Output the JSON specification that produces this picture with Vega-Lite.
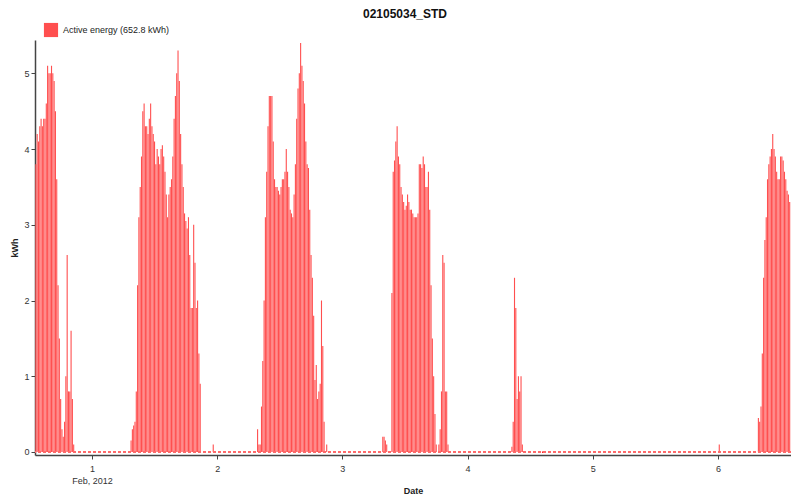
{
  "$schema": "https://vega.github.io/schema/vega-lite/v6.json",
  "width": 756,
  "height": 415,
  "autosize": {"type": "none"},
  "padding": {"left": 35, "top": 40, "right": 0, "bottom": 44},
  "background": "white",
  "config": {"view": {"stroke": null}, "font": "Liberation Sans"},
  "title": {"text": "02105034_STD", "fontSize": 12, "fontWeight": "bold", "font": "Liberation Sans", "color": "#111", "anchor": "middle", "dx": -8, "offset": 1},
  "data": {"values": [
    {"t": "2012-01-31T13:15", "kwh": 3.8}, {"t": "2012-01-31T13:30", "kwh": 4.2}, {"t": "2012-01-31T13:45", "kwh": 4.1}, {"t": "2012-01-31T14:00", "kwh": 4.3},
    {"t": "2012-01-31T14:15", "kwh": 4.4}, {"t": "2012-01-31T14:30", "kwh": 4.3}, {"t": "2012-01-31T14:45", "kwh": 4.4}, {"t": "2012-01-31T15:00", "kwh": 4.4},
    {"t": "2012-01-31T15:15", "kwh": 4.6}, {"t": "2012-01-31T15:30", "kwh": 5.1}, {"t": "2012-01-31T15:45", "kwh": 5.0}, {"t": "2012-01-31T16:00", "kwh": 5.0},
    {"t": "2012-01-31T16:15", "kwh": 5.1}, {"t": "2012-01-31T16:30", "kwh": 5.0}, {"t": "2012-01-31T16:45", "kwh": 4.9}, {"t": "2012-01-31T17:00", "kwh": 4.5},
    {"t": "2012-01-31T17:15", "kwh": 3.6}, {"t": "2012-01-31T17:30", "kwh": 2.2}, {"t": "2012-01-31T17:45", "kwh": 1.5}, {"t": "2012-01-31T18:00", "kwh": 0.7},
    {"t": "2012-01-31T18:15", "kwh": 0.3}, {"t": "2012-01-31T18:30", "kwh": 0.2}, {"t": "2012-01-31T18:45", "kwh": 0.4}, {"t": "2012-01-31T19:00", "kwh": 1.0},
    {"t": "2012-01-31T19:15", "kwh": 2.6}, {"t": "2012-01-31T19:30", "kwh": 0.8}, {"t": "2012-01-31T19:45", "kwh": 0.8}, {"t": "2012-01-31T20:00", "kwh": 1.6},
    {"t": "2012-01-31T20:15", "kwh": 0.7}, {"t": "2012-01-31T20:30", "kwh": 0.1},

    {"t": "2012-02-01T07:30", "kwh": 0.15}, {"t": "2012-02-01T07:45", "kwh": 0.3}, {"t": "2012-02-01T08:00", "kwh": 0.35}, {"t": "2012-02-01T08:15", "kwh": 0.4},
    {"t": "2012-02-01T08:30", "kwh": 0.8}, {"t": "2012-02-01T08:45", "kwh": 2.2}, {"t": "2012-02-01T09:00", "kwh": 3.1}, {"t": "2012-02-01T09:15", "kwh": 3.5},
    {"t": "2012-02-01T09:30", "kwh": 3.9}, {"t": "2012-02-01T09:45", "kwh": 4.5}, {"t": "2012-02-01T10:00", "kwh": 4.6}, {"t": "2012-02-01T10:15", "kwh": 4.3},
    {"t": "2012-02-01T10:30", "kwh": 4.3}, {"t": "2012-02-01T10:45", "kwh": 4.2}, {"t": "2012-02-01T11:00", "kwh": 4.4}, {"t": "2012-02-01T11:15", "kwh": 4.6},
    {"t": "2012-02-01T11:30", "kwh": 4.3}, {"t": "2012-02-01T11:45", "kwh": 4.2}, {"t": "2012-02-01T12:00", "kwh": 4.1}, {"t": "2012-02-01T12:15", "kwh": 3.8},
    {"t": "2012-02-01T12:30", "kwh": 4.0}, {"t": "2012-02-01T12:45", "kwh": 3.9}, {"t": "2012-02-01T13:00", "kwh": 3.8}, {"t": "2012-02-01T13:15", "kwh": 4.0},
    {"t": "2012-02-01T13:30", "kwh": 4.05}, {"t": "2012-02-01T13:45", "kwh": 3.9}, {"t": "2012-02-01T14:00", "kwh": 3.7}, {"t": "2012-02-01T14:15", "kwh": 3.4},
    {"t": "2012-02-01T14:30", "kwh": 3.1}, {"t": "2012-02-01T14:45", "kwh": 3.4}, {"t": "2012-02-01T15:00", "kwh": 3.5}, {"t": "2012-02-01T15:15", "kwh": 3.6},
    {"t": "2012-02-01T15:30", "kwh": 3.9}, {"t": "2012-02-01T15:45", "kwh": 4.4}, {"t": "2012-02-01T16:00", "kwh": 4.7}, {"t": "2012-02-01T16:15", "kwh": 5.0},
    {"t": "2012-02-01T16:30", "kwh": 5.3}, {"t": "2012-02-01T16:45", "kwh": 4.9}, {"t": "2012-02-01T17:00", "kwh": 4.2}, {"t": "2012-02-01T17:15", "kwh": 3.8},
    {"t": "2012-02-01T17:30", "kwh": 3.5}, {"t": "2012-02-01T17:45", "kwh": 3.15}, {"t": "2012-02-01T18:00", "kwh": 3.05}, {"t": "2012-02-01T18:15", "kwh": 2.95},
    {"t": "2012-02-01T18:30", "kwh": 3.1}, {"t": "2012-02-01T18:45", "kwh": 2.6}, {"t": "2012-02-01T19:00", "kwh": 1.9}, {"t": "2012-02-01T19:15", "kwh": 1.9},
    {"t": "2012-02-01T19:30", "kwh": 3.0}, {"t": "2012-02-01T19:45", "kwh": 2.5}, {"t": "2012-02-01T20:00", "kwh": 1.9}, {"t": "2012-02-01T20:15", "kwh": 2.0},
    {"t": "2012-02-01T20:30", "kwh": 1.3}, {"t": "2012-02-01T20:45", "kwh": 0.9}, {"t": "2012-02-01T23:15", "kwh": 0.1},

    {"t": "2012-02-02T07:45", "kwh": 0.3}, {"t": "2012-02-02T08:00", "kwh": 0.1}, {"t": "2012-02-02T08:15", "kwh": 0.1}, {"t": "2012-02-02T08:30", "kwh": 0.6},
    {"t": "2012-02-02T08:45", "kwh": 1.2}, {"t": "2012-02-02T09:00", "kwh": 2.0}, {"t": "2012-02-02T09:15", "kwh": 3.1}, {"t": "2012-02-02T09:30", "kwh": 3.7},
    {"t": "2012-02-02T09:45", "kwh": 4.3}, {"t": "2012-02-02T10:00", "kwh": 4.7}, {"t": "2012-02-02T10:15", "kwh": 4.7}, {"t": "2012-02-02T10:30", "kwh": 4.7},
    {"t": "2012-02-02T10:45", "kwh": 4.1}, {"t": "2012-02-02T11:00", "kwh": 3.6}, {"t": "2012-02-02T11:15", "kwh": 3.5}, {"t": "2012-02-02T11:30", "kwh": 3.5},
    {"t": "2012-02-02T11:45", "kwh": 3.45}, {"t": "2012-02-02T12:00", "kwh": 3.4}, {"t": "2012-02-02T12:15", "kwh": 3.5}, {"t": "2012-02-02T12:30", "kwh": 3.6},
    {"t": "2012-02-02T12:45", "kwh": 3.6}, {"t": "2012-02-02T13:00", "kwh": 3.7}, {"t": "2012-02-02T13:15", "kwh": 4.0}, {"t": "2012-02-02T13:30", "kwh": 3.7},
    {"t": "2012-02-02T13:45", "kwh": 3.5}, {"t": "2012-02-02T14:00", "kwh": 3.2}, {"t": "2012-02-02T14:15", "kwh": 3.15}, {"t": "2012-02-02T14:30", "kwh": 3.1},
    {"t": "2012-02-02T14:45", "kwh": 3.4}, {"t": "2012-02-02T15:00", "kwh": 3.8}, {"t": "2012-02-02T15:15", "kwh": 4.4}, {"t": "2012-02-02T15:30", "kwh": 4.8},
    {"t": "2012-02-02T15:45", "kwh": 5.0}, {"t": "2012-02-02T16:00", "kwh": 5.4}, {"t": "2012-02-02T16:15", "kwh": 5.1}, {"t": "2012-02-02T16:30", "kwh": 4.9},
    {"t": "2012-02-02T16:45", "kwh": 4.6}, {"t": "2012-02-02T17:00", "kwh": 4.1}, {"t": "2012-02-02T17:15", "kwh": 3.8}, {"t": "2012-02-02T17:30", "kwh": 3.75},
    {"t": "2012-02-02T17:45", "kwh": 3.2}, {"t": "2012-02-02T18:00", "kwh": 2.6}, {"t": "2012-02-02T18:15", "kwh": 2.3}, {"t": "2012-02-02T18:30", "kwh": 1.8},
    {"t": "2012-02-02T18:45", "kwh": 0.95}, {"t": "2012-02-02T19:00", "kwh": 1.15}, {"t": "2012-02-02T19:15", "kwh": 0.7}, {"t": "2012-02-02T19:30", "kwh": 0.8},
    {"t": "2012-02-02T19:45", "kwh": 0.9}, {"t": "2012-02-02T20:00", "kwh": 2.0}, {"t": "2012-02-02T20:15", "kwh": 1.4}, {"t": "2012-02-02T20:30", "kwh": 0.4},
    {"t": "2012-02-02T21:00", "kwh": 0.1},

    {"t": "2012-02-03T07:45", "kwh": 0.2}, {"t": "2012-02-03T08:00", "kwh": 0.2}, {"t": "2012-02-03T08:15", "kwh": 0.15}, {"t": "2012-02-03T08:30", "kwh": 0.1},
    {"t": "2012-02-03T09:30", "kwh": 2.1}, {"t": "2012-02-03T09:45", "kwh": 3.7}, {"t": "2012-02-03T10:00", "kwh": 3.85}, {"t": "2012-02-03T10:15", "kwh": 4.1},
    {"t": "2012-02-03T10:30", "kwh": 4.3}, {"t": "2012-02-03T10:45", "kwh": 3.9}, {"t": "2012-02-03T11:00", "kwh": 3.8}, {"t": "2012-02-03T11:15", "kwh": 3.5},
    {"t": "2012-02-03T11:30", "kwh": 3.4}, {"t": "2012-02-03T11:45", "kwh": 3.3}, {"t": "2012-02-03T12:00", "kwh": 3.2}, {"t": "2012-02-03T12:15", "kwh": 3.25},
    {"t": "2012-02-03T12:30", "kwh": 3.4}, {"t": "2012-02-03T12:45", "kwh": 3.3}, {"t": "2012-02-03T13:00", "kwh": 3.2}, {"t": "2012-02-03T13:15", "kwh": 3.2},
    {"t": "2012-02-03T13:30", "kwh": 3.15}, {"t": "2012-02-03T13:45", "kwh": 3.1}, {"t": "2012-02-03T14:00", "kwh": 3.1}, {"t": "2012-02-03T14:15", "kwh": 3.1},
    {"t": "2012-02-03T14:30", "kwh": 3.15}, {"t": "2012-02-03T14:45", "kwh": 3.8}, {"t": "2012-02-03T15:00", "kwh": 3.8}, {"t": "2012-02-03T15:15", "kwh": 3.75},
    {"t": "2012-02-03T15:30", "kwh": 3.9}, {"t": "2012-02-03T15:45", "kwh": 3.8}, {"t": "2012-02-03T16:00", "kwh": 3.5}, {"t": "2012-02-03T16:15", "kwh": 3.5},
    {"t": "2012-02-03T16:30", "kwh": 3.7}, {"t": "2012-02-03T16:45", "kwh": 3.2}, {"t": "2012-02-03T17:00", "kwh": 2.2}, {"t": "2012-02-03T17:15", "kwh": 1.5},
    {"t": "2012-02-03T17:30", "kwh": 1.0}, {"t": "2012-02-03T17:45", "kwh": 0.5}, {"t": "2012-02-03T18:00", "kwh": 0.1}, {"t": "2012-02-03T18:30", "kwh": 0.1},
    {"t": "2012-02-03T18:45", "kwh": 0.3}, {"t": "2012-02-03T19:00", "kwh": 0.8}, {"t": "2012-02-03T19:15", "kwh": 2.6}, {"t": "2012-02-03T19:30", "kwh": 2.5},
    {"t": "2012-02-03T19:45", "kwh": 0.8}, {"t": "2012-02-03T20:00", "kwh": 0.8}, {"t": "2012-02-03T20:15", "kwh": 0.1},

    {"t": "2012-02-04T08:30", "kwh": 0.07}, {"t": "2012-02-04T08:45", "kwh": 0.4}, {"t": "2012-02-04T09:00", "kwh": 2.3}, {"t": "2012-02-04T09:15", "kwh": 1.9},
    {"t": "2012-02-04T09:30", "kwh": 0.7}, {"t": "2012-02-04T09:45", "kwh": 1.0}, {"t": "2012-02-04T10:00", "kwh": 0.8}, {"t": "2012-02-04T10:15", "kwh": 1.0},
    {"t": "2012-02-04T10:30", "kwh": 0.1},

    {"t": "2012-02-06T00:15", "kwh": 0.1},
    {"t": "2012-02-06T07:45", "kwh": 0.45}, {"t": "2012-02-06T08:00", "kwh": 0.4}, {"t": "2012-02-06T08:15", "kwh": 0.6}, {"t": "2012-02-06T08:30", "kwh": 1.3},
    {"t": "2012-02-06T08:45", "kwh": 2.3}, {"t": "2012-02-06T09:00", "kwh": 2.8}, {"t": "2012-02-06T09:15", "kwh": 3.1}, {"t": "2012-02-06T09:30", "kwh": 3.6},
    {"t": "2012-02-06T09:45", "kwh": 3.8}, {"t": "2012-02-06T10:00", "kwh": 3.9}, {"t": "2012-02-06T10:15", "kwh": 4.0}, {"t": "2012-02-06T10:30", "kwh": 4.2},
    {"t": "2012-02-06T10:45", "kwh": 4.0}, {"t": "2012-02-06T11:00", "kwh": 3.9}, {"t": "2012-02-06T11:15", "kwh": 3.7}, {"t": "2012-02-06T11:30", "kwh": 3.6},
    {"t": "2012-02-06T11:45", "kwh": 3.6}, {"t": "2012-02-06T12:00", "kwh": 3.9}, {"t": "2012-02-06T12:15", "kwh": 3.9}, {"t": "2012-02-06T12:30", "kwh": 3.85},
    {"t": "2012-02-06T12:45", "kwh": 3.7}, {"t": "2012-02-06T13:00", "kwh": 3.6}, {"t": "2012-02-06T13:15", "kwh": 3.45}, {"t": "2012-02-06T13:30", "kwh": 3.4},
    {"t": "2012-02-06T13:45", "kwh": 3.3}
  ]},
  "layer": [
    {
      "mark": {"type": "bar", "width": 1.1},
      "encoding": {
        "x": {
          "field": "t", "type": "temporal",
          "scale": {"domain": [{"year": 2012, "month": 1, "date": 31, "hours": 13, "minutes": 5}, {"year": 2012, "month": 2, "date": 6, "hours": 14}], "nice": false, "padding": 0},
          "axis": {
            "title": "Date", "titleFontSize": 9, "titleFontWeight": "bold", "titleColor": "#222", "titlePadding": 1,
            "values": [
              {"year": 2012, "month": 2, "date": 1}, {"year": 2012, "month": 2, "date": 2}, {"year": 2012, "month": 2, "date": 3},
              {"year": 2012, "month": 2, "date": 4}, {"year": 2012, "month": 2, "date": 5}, {"year": 2012, "month": 2, "date": 6}
            ],
            "labelExpr": "date(datum.value) == 1 ? ['1', 'Feb, 2012'] : timeFormat(datum.value, '%-d')",
            "labelFontSize": 9, "labelColor": "#333", "labelLineHeight": 12, "labelPadding": 5,
            "grid": false, "tickSize": 4, "tickColor": "#444", "domainColor": "#444", "domainWidth": 1.5
          }
        },
        "y": {
          "field": "kwh", "type": "quantitative",
          "scale": {"domain": [-0.04, 5.44], "nice": false, "zero": false},
          "axis": {
            "title": "kWh", "titleFontSize": 9, "titleFontWeight": "bold", "titleColor": "#222", "titlePadding": 4,
            "values": [0, 1, 2, 3, 4, 5], "format": "d", "labelFontSize": 9, "labelColor": "#333", "labelPadding": 2,
            "grid": false, "tickSize": 4, "tickColor": "#444", "domainColor": "#444", "domainWidth": 1.5
          }
        },
        "color": {
          "datum": "Active energy (652.8 kWh)", "type": "nominal",
          "scale": {"range": ["#ff4f4f"]},
          "legend": {
            "orient": "none", "legendX": 8, "legendY": -18, "title": null, "padding": 0,
            "symbolType": "square", "symbolSize": 200, "symbolStrokeColor": "#b00000", "symbolStrokeWidth": 1,
            "labelFontSize": 9, "labelColor": "#222", "labelOffset": 4,
            "encode": {"symbols": {"update": {"fill": {"value": "#ee2020"}, "fillOpacity": {"value": 1}}}}
          }
        }
      }
    },
    {
      "mark": {"type": "rule", "strokeDash": [3, 2], "color": "#ff6a6a", "strokeWidth": 1},
      "encoding": {"y": {"datum": 0}}
    }
  ]
}
